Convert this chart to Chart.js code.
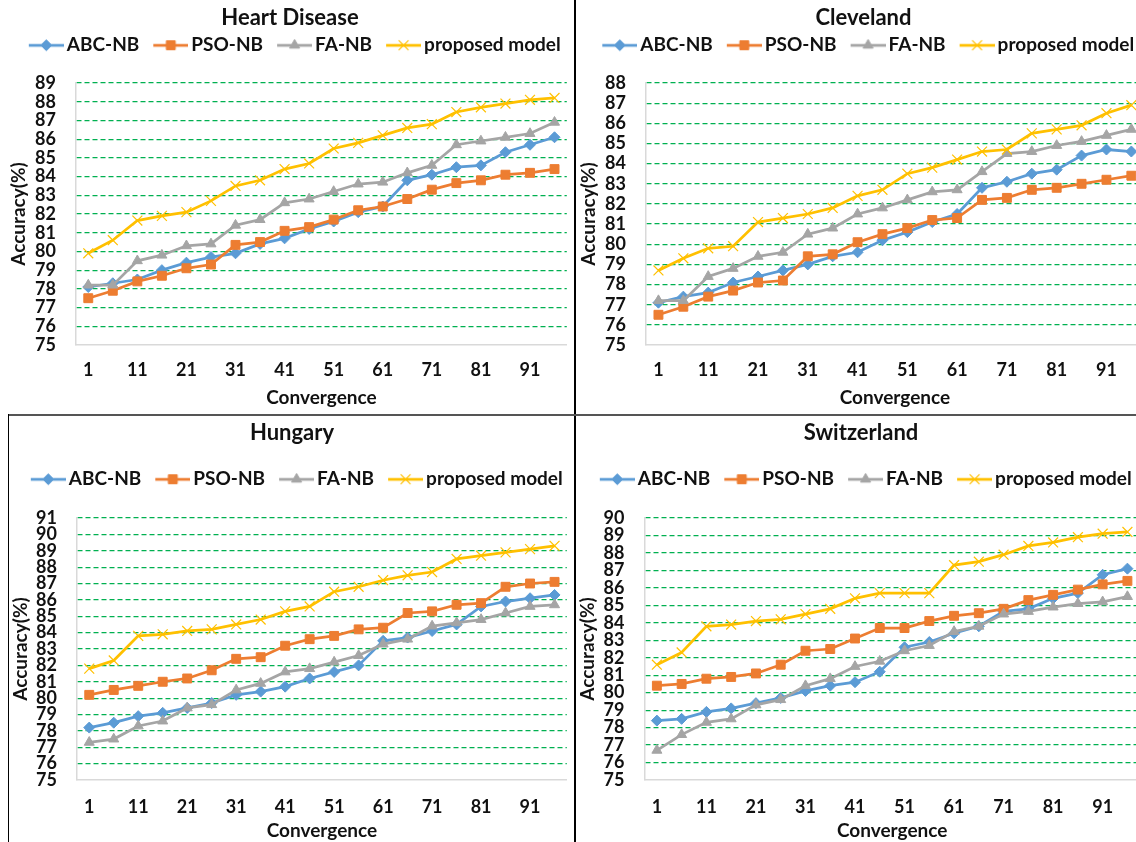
<!DOCTYPE html>
<html>
<head>
<meta charset="utf-8">
<script src="https://cdn.jsdelivr.net/npm/chart.js@4.4.1/dist/chart.umd.min.js"></script>
<style>
  html, body { margin: 0; padding: 0; background: #fff; }
  #page { position: relative; width: 1136px; height: 842px; overflow: hidden; }
  #page canvas { position: absolute; }
  .rule { position: absolute; z-index: 2; }
</style>
</head>
<body>
<div id="page">
  <canvas id="heart" width="575" height="414" style="left:0;top:0"></canvas>
  <canvas id="cleveland" width="576" height="414" style="left:576px;top:0"></canvas>
  <canvas id="hungary" width="575" height="425" style="left:0;top:417px"></canvas>
  <canvas id="switzerland" width="572" height="425" style="left:576px;top:417px"></canvas>
  <div class="rule" style="left:574px;top:0;width:2px;height:842px;background:#000"></div>
  <div class="rule" style="left:8px;top:414px;width:1128px;height:2px;background:#555"></div>
  <div class="rule" style="left:8px;top:414px;width:1px;height:428px;background:#000"></div>
</div>
<script>
// x axis categories (iterations)
const iterations = ['1', '6', '11', '16', '21', '26', '31', '36', '41', '46',
                    '51', '56', '61', '66', '71', '76', '81', '86', '91', '96'];
const seriesNames = ['ABC-NB', 'PSO-NB', 'FA-NB', 'proposed model'];

// Heart Disease
const heartRange = [75, 89];
const heartAbc = [78.1, 78.3, 78.5, 79.0, 79.4, 79.7, 79.9, 80.4, 80.7, 81.2, 81.6, 82.1, 82.4, 83.8, 84.1, 84.5, 84.6, 85.3, 85.7, 86.1];
const heartPso = [77.5, 77.9, 78.4, 78.7, 79.1, 79.3, 80.35, 80.5, 81.1, 81.3, 81.7, 82.2, 82.4, 82.8, 83.3, 83.65, 83.8, 84.1, 84.2, 84.4];
const heartFa = [78.2, 78.2, 79.5, 79.8, 80.3, 80.4, 81.4, 81.7, 82.6, 82.8, 83.2, 83.6, 83.7, 84.2, 84.6, 85.7, 85.9, 86.1, 86.3, 86.9];
const heartProposed = [79.9, 80.6, 81.65, 81.9, 82.1, 82.7, 83.5, 83.8, 84.4, 84.7, 85.5, 85.8, 86.2, 86.6, 86.8, 87.45, 87.7, 87.9, 88.1, 88.2];

// Cleveland
const clevelandRange = [75, 88];
const clevelandAbc = [77.1, 77.4, 77.6, 78.1, 78.4, 78.7, 79.0, 79.4, 79.6, 80.2, 80.6, 81.1, 81.5, 82.8, 83.1, 83.5, 83.7, 84.4, 84.7, 84.6];
const clevelandPso = [76.5, 76.9, 77.4, 77.7, 78.1, 78.2, 79.4, 79.5, 80.1, 80.5, 80.8, 81.2, 81.3, 82.2, 82.3, 82.7, 82.8, 83.0, 83.2, 83.4];
const clevelandFa = [77.2, 77.2, 78.4, 78.8, 79.4, 79.6, 80.5, 80.8, 81.5, 81.8, 82.2, 82.6, 82.7, 83.6, 84.5, 84.6, 84.9, 85.1, 85.4, 85.7];
const clevelandProposed = [78.7, 79.3, 79.8, 79.9, 81.1, 81.3, 81.5, 81.8, 82.4, 82.7, 83.5, 83.8, 84.2, 84.6, 84.7, 85.5, 85.7, 85.9, 86.5, 86.9];

// Hungary
const hungaryRange = [75, 91];
const hungaryAbc = [78.2, 78.5, 78.9, 79.1, 79.4, 79.7, 80.2, 80.4, 80.7, 81.2, 81.6, 82.0, 83.5, 83.7, 84.1, 84.5, 85.6, 85.9, 86.1, 86.3];
const hungaryPso = [80.2, 80.5, 80.75, 81.0, 81.2, 81.7, 82.4, 82.5, 83.2, 83.6, 83.8, 84.2, 84.3, 85.2, 85.3, 85.7, 85.8, 86.8, 87.0, 87.1];
const hungaryFa = [77.3, 77.5, 78.3, 78.6, 79.4, 79.6, 80.5, 80.9, 81.6, 81.8, 82.2, 82.6, 83.3, 83.6, 84.4, 84.6, 84.8, 85.2, 85.6, 85.7];
const hungaryProposed = [81.8, 82.3, 83.8, 83.9, 84.1, 84.2, 84.5, 84.8, 85.3, 85.6, 86.5, 86.8, 87.2, 87.5, 87.7, 88.5, 88.7, 88.9, 89.1, 89.3];

// Switzerland
const switzerlandRange = [75, 90];
const switzerlandAbc = [78.4, 78.5, 78.9, 79.1, 79.4, 79.7, 80.1, 80.4, 80.6, 81.2, 82.6, 82.9, 83.4, 83.8, 84.65, 84.8, 85.4, 85.7, 86.75, 87.1];
const switzerlandPso = [80.4, 80.5, 80.8, 80.9, 81.1, 81.6, 82.4, 82.5, 83.1, 83.7, 83.7, 84.1, 84.4, 84.55, 84.8, 85.3, 85.6, 85.9, 86.2, 86.4];
const switzerlandFa = [76.7, 77.6, 78.3, 78.5, 79.3, 79.6, 80.4, 80.8, 81.5, 81.8, 82.4, 82.7, 83.5, 83.8, 84.5, 84.65, 84.9, 85.1, 85.2, 85.5];
const switzerlandProposed = [81.6, 82.3, 83.8, 83.9, 84.1, 84.2, 84.5, 84.8, 85.4, 85.7, 85.7, 85.7, 87.3, 87.5, 87.9, 88.4, 88.6, 88.9, 89.1, 89.2];

Chart.defaults.font.family = 'Lato, "Open Sans", sans-serif';
Chart.defaults.font.weight = 'bold';
Chart.defaults.color = '#111';

const textColor = '#111';
const gridGreen = '#00b050';
const seriesStyle = [
    { color: '#5b9bd5', point: 'rectRot', radius: 5.5, pointBorder: 1 },
    { color: '#ed7d31', point: 'rect', radius: 6.3, pointBorder: 1 },
    { color: '#a5a5a5', point: 'triangle', radius: 5.8, pointBorder: 1 },
    { color: '#ffc000', point: 'crossRot', radius: 7, pointBorder: 1.2 }
];

// line + marker sample for the legend, like Excel draws it
let legendSwatch = style => {
    const c = document.createElement('canvas');
    c.width = 51;
    c.height = 16;
    const g = c.getContext('2d');
    g.strokeStyle = style.color;
    g.fillStyle = style.color;
    g.lineWidth = 2.75;
    g.beginPath();
    g.moveTo(16, 8);
    g.lineTo(51, 8);
    g.stroke();
    g.lineWidth = style.pointBorder;
    Chart.helpers.drawPoint(g, {
        pointStyle: style.point,
        radius: style.radius,
        borderWidth: style.pointBorder,
        rotation: 0
    }, 33.5, 8);
    return c;
};

const swatches = seriesStyle.map(legendSwatch);

// lets the legend take a fixed height so the plot starts where it should
const legendHeightPlugin = {
    id: 'legendHeight',
    beforeInit(chart, args, options) {
        const h = options.height;
        const fit = chart.legend.fit;
        chart.legend.fit = function () {
            fit.call(this);
            this.height = h;
        };
    }
};

let initChart = (ctx, title, series, range, lay) => {
    const datasets = series.map((values, i) => ({
        label: seriesNames[i],
        data: values,
        borderColor: seriesStyle[i].color,
        backgroundColor: seriesStyle[i].color,
        borderWidth: 2.75,
        pointStyle: seriesStyle[i].point,
        pointRadius: seriesStyle[i].radius,
        pointBorderWidth: seriesStyle[i].pointBorder,
        pointBackgroundColor: seriesStyle[i].color,
        pointBorderColor: seriesStyle[i].color,
        tension: 0,
        order: series.length - i
    }));

    const chartOptions = {
        responsive: false,
        animation: false,
        events: [],
        layout: {
            padding: { left: lay.padLeft, right: lay.padRight, top: 0, bottom: 0 }
        },
        plugins: {
            title: {
                display: true,
                text: title,
                color: textColor,
                font: { size: 22, weight: 'bold', lineHeight: 1.2 },
                padding: { top: lay.titleTop, bottom: lay.titleBottom }
            },
            legend: {
                position: 'top',
                labels: {
                    usePointStyle: true,
                    pointStyleWidth: 38,
                    padding: 4.5,
                    color: textColor,
                    font: { size: 19, weight: 'bold' },
                    generateLabels: chart => chart.data.datasets.map((ds, i) => ({
                        text: ds.label,
                        pointStyle: swatches[i],
                        fillStyle: ds.borderColor,
                        strokeStyle: ds.borderColor,
                        lineWidth: 0,
                        hidden: false,
                        datasetIndex: i,
                        fontColor: textColor
                    }))
                }
            },
            legendHeight: { height: lay.legendHeight },
            tooltip: { enabled: false }
        },
        scales: {
            x: {
                type: 'category',
                offset: true,
                grid: { display: true, color: 'transparent', drawTicks: false },
                border: { display: true, color: '#d9d9d9', width: 1.5 },
                ticks: {
                    autoSkip: false,
                    maxRotation: 0,
                    padding: lay.xTickPad,
                    color: textColor,
                    font: { size: 18, weight: 'bold' },
                    callback: (value, index) => index % 2 === 0 ? iterations[index] : ''
                },
                title: {
                    display: true,
                    text: 'Convergence',
                    color: textColor,
                    font: { size: 19, weight: 'bold', lineHeight: 1.2 },
                    padding: { top: 0, bottom: lay.xTitleBottom }
                },
                afterFit: scale => { scale.height = lay.xHeight; }
            },
            y: {
                min: range[0],
                max: range[1],
                grid: {
                    drawTicks: false,
                    lineWidth: 1.2,
                    color: c => c.tick && c.tick.value === range[0] ? 'transparent' : gridGreen
                },
                border: { display: true, color: '#d9d9d9', width: 1.5, dash: [5, 3] },
                ticks: {
                    stepSize: 1,
                    autoSkip: false,
                    padding: 20,
                    color: textColor,
                    font: { size: 18, weight: 'bold' }
                },
                title: {
                    display: true,
                    text: 'Accuracy(%)',
                    color: textColor,
                    font: { size: 19, weight: 'bold', lineHeight: 1.2 },
                    padding: 0
                },
                afterFit: scale => { scale.width = lay.yWidth; }
            }
        }
    };

    new Chart(ctx, {
        type: 'line',
        data: { labels: iterations, datasets: datasets },
        options: chartOptions,
        plugins: [legendHeightPlugin]
    });
};

const topLayout = { titleTop: 4.8, titleBottom: 0, legendHeight: 51.8, xHeight: 69, xTickPad: 14.8, xTitleBottom: 4.6 };
const bottomLayout = { titleTop: 2.8, titleBottom: 19, legendHeight: 52.8, xHeight: 62, xTickPad: 16.8, xTitleBottom: 0 };

initChart('heart', 'Heart Disease',
    [heartAbc, heartPso, heartFa, heartProposed], heartRange,
    Object.assign({ padLeft: 7, padRight: 2, yWidth: 69 }, topLayout));
initChart('cleveland', 'Cleveland',
    [clevelandAbc, clevelandPso, clevelandFa, clevelandProposed], clevelandRange,
    Object.assign({ padLeft: 1, padRight: 2, yWidth: 69 }, topLayout));
initChart('hungary', 'Hungary',
    [hungaryAbc, hungaryPso, hungaryFa, hungaryProposed], hungaryRange,
    Object.assign({ padLeft: 9, padRight: 0, yWidth: 68 }, bottomLayout));
initChart('switzerland', 'Switzerland',
    [switzerlandAbc, switzerlandPso, switzerlandFa, switzerlandProposed], switzerlandRange,
    Object.assign({ padLeft: 0, padRight: 2, yWidth: 68.5 }, bottomLayout));
</script>
</body>
</html>
